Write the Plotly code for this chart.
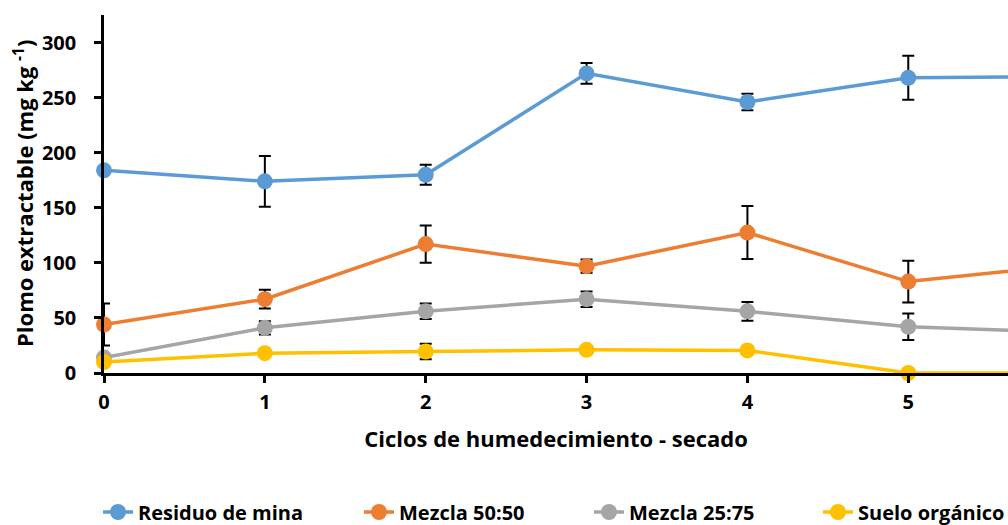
import plotly.graph_objects as go

# Wetting–drying cycles
ciclos = [0, 1, 2, 3, 4, 5, 6]

# Extractable lead (mg/kg) and standard deviations per treatment
residuo = [184, 174, 180, 272, 246, 268, 269]
residuo_err = [3, 23, 9, 9.5, 7.5, 20, 8]

mezcla_50 = [44, 67, 117, 97, 127.5, 83, 98]
mezcla_50_err = [19, 8.5, 17, 6, 24, 19, 8]

mezcla_25 = [14, 41, 56, 67, 56, 42, 37]
mezcla_25_err = [3, 6, 7, 7, 8.5, 12, 5]

suelo = [10, 18, 19.5, 21, 20.5, 0, 0]
suelo_err = [2, 3, 7, 3, 3, 0, 0]

y_ticks = [0, 50, 100, 150, 200, 250, 300]

series = [
    ("Residuo de mina", residuo, residuo_err, "#5B9BD5"),
    ("Mezcla 50:50", mezcla_50, mezcla_50_err, "#ED7D31"),
    ("Mezcla 25:75", mezcla_25, mezcla_25_err, "#A5A5A5"),
    ("Suelo orgánico", suelo, suelo_err, "#FFC000"),
]

# left edge (px) of each legend entry along the bottom row
legend_left = [98, 359, 589, 818]

FONT = "Open Sans"
W, H = 1008, 525
L, R, T, B = 104, 0, 15, 152

fig = go.Figure()
legend_layout = {}
for i, (name, vals, errs, color) in enumerate(series):
    key = "legend" if i == 0 else f"legend{i + 1}"
    fig.add_trace(go.Scatter(
        x=ciclos, y=vals, name=name, mode="lines+markers",
        line=dict(color=color, width=3.5),
        marker=dict(color=color, size=16),
        error_y=dict(type="data", array=errs, visible=True,
                     color="black", thickness=2, width=6),
        cliponaxis=False,
        legend=key,
    ))
    legend_layout[key] = dict(
        x=legend_left[i] / W, xanchor="left", xref="container",
        y=13 / H, yanchor="middle", yref="container",
        orientation="h", bgcolor="rgba(0,0,0,0)",
        font=dict(family=FONT, size=20, color="black", weight="bold"),
    )

fig.update_layout(
    width=W, height=H,
    margin=dict(l=L, r=R, t=T, b=B, autoexpand=False),
    paper_bgcolor="white", plot_bgcolor="white",
    font=dict(family=FONT, size=20, color="black", weight="bold"),
    showlegend=True,
    **legend_layout,
)

fig.update_xaxes(
    range=[0, 5.62], tickmode="array", tickvals=ciclos[:6],
    showline=True, linecolor="black", linewidth=2.5,
    ticks="outside", ticklen=7, tickwidth=2.5, tickcolor="black",
    ticklabelstandoff=2,
    tickfont=dict(family=FONT, size=20, weight="bold"),
    showgrid=False, zeroline=False,
    title=dict(text="Ciclos de humedecimiento - secado", standoff=18,
               font=dict(family=FONT, size=22, weight="bold")),
)
fig.update_yaxes(
    range=[0, 325], tickmode="array", tickvals=y_ticks,
    showline=True, linecolor="black", linewidth=2.5,
    ticks="outside", ticklen=7, tickwidth=2.5, tickcolor="black",
    ticklabelstandoff=14,
    tickfont=dict(family=FONT, size=20, weight="bold"),
    showgrid=False, zeroline=False,
)

# y-axis title placed as a rotated annotation
fig.add_annotation(
    text="Plomo extractable (mg kg <sup>-1</sup>)",
    xref="paper", yref="paper",
    x=-(L - 23) / (W - L - R), y=0.5,
    xanchor="center", yanchor="middle", textangle=-90, showarrow=False,
    font=dict(family=FONT, size=22, color="black", weight="bold"),
)

fig.write_html("out.html")
